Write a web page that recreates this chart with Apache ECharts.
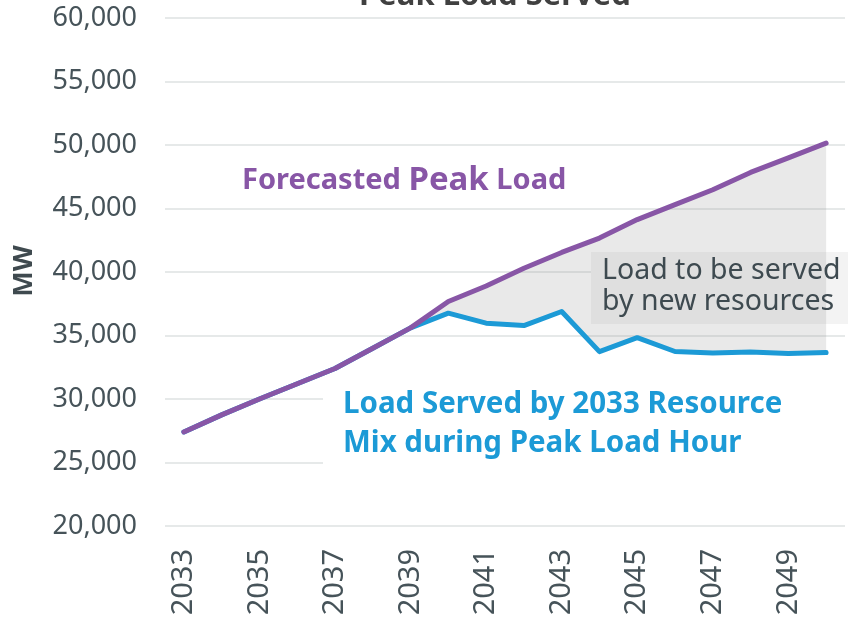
<!DOCTYPE html>
<html>
<head>
<meta charset="utf-8">
<script src="https://cdn.jsdelivr.net/npm/echarts@6/dist/echarts.min.js"></script>
<style>
  html, body { margin: 0; padding: 0; background: #fff; }
  #chart { width: 848px; height: 620px; }
</style>
</head>
<body>
<div id="chart"></div>
<script>
  // years on the x axis
  var years = ['2033', '2034', '2035', '2036', '2037', '2038', '2039', '2040', '2041',
    '2042', '2043', '2044', '2045', '2046', '2047', '2048', '2049', '2050']
  // Forecasted Peak Load (MW)
  var forecastPeak = [27400, 28750, 30000, 31200, 32400, 34000, 35600, 37680, 38900,
    40300, 41540, 42670, 44130, 45300, 46480, 47840, 48980, 50150]
  // Load Served by 2033 Resource Mix during Peak Load Hour (MW)
  var servedByMix = [27400, 28750, 30000, 31200, 32400, 34000, 35600, 36760, 35970,
    35780, 36890, 33730, 34830, 33740, 33620, 33700, 33580, 33660]

  // gap between the two lines, stacked on top of servedByMix for the grey area
  var gap = forecastPeak.map(function (v, i) { return v - servedByMix[i] })

  var font = 'Noto Sans'
  var txtColor = '#465359'

  var myChart = echarts.init(document.getElementById('chart'))
  myChart.setOption({
    animation: false,
    grid: { left: 165, right: 3, top: 18, bottom: 94 },
    xAxis: {
      type: 'category',
      data: years,
      boundaryGap: true,
      axisLine: { show: false },
      axisTick: { show: false },
      axisLabel: {
        interval: 1,
        rotate: 90,
        margin: 23,
        fontSize: 29,
        fontFamily: font,
        color: txtColor
      }
    },
    yAxis: {
      type: 'value',
      min: 20000,
      max: 60000,
      interval: 5000,
      axisLine: { show: false },
      axisTick: { show: false },
      axisLabel: {
        margin: 28,
        fontSize: 27,
        fontFamily: font,
        color: txtColor,
        formatter: function (v) { return v.toLocaleString('en-US') }
      },
      splitLine: { lineStyle: { color: '#e6e9e9', width: 2 } }
    },
    series: [
      {
        name: 'base',
        type: 'line',
        data: servedByMix,
        stack: 'gap',
        symbol: 'none',
        silent: true,
        lineStyle: { width: 0, opacity: 0 }
      },
      {
        name: 'gap',
        type: 'line',
        data: gap,
        stack: 'gap',
        symbol: 'none',
        silent: true,
        lineStyle: { width: 0, opacity: 0 },
        areaStyle: { color: 'rgba(150,150,150,0.3)' }
      },
      {
        name: 'Load Served by 2033 Resource Mix during Peak Load Hour',
        type: 'line',
        data: servedByMix,
        symbol: 'none',
        z: 5,
        lineStyle: { color: '#1c9ad6', width: 5, cap: 'round', join: 'round' }
      },
      {
        name: 'Forecasted Peak Load',
        type: 'line',
        data: forecastPeak,
        symbol: 'none',
        z: 6,
        lineStyle: { color: '#8856a6', width: 5, cap: 'round', join: 'round' }
      }
    ],
    graphic: [
      {
        type: 'text',
        z: 10,
        style: {
          text: 'Peak Load Served',
          x: 495, y: 12,
          align: 'center', verticalAlign: 'bottom',
          font: 'bold 31px "Noto Sans"',
          fill: '#404040'
        }
      },
      {
        type: 'text',
        z: 10,
        rotation: Math.PI / 2,
        x: 24, y: 271,
        style: {
          text: 'MW',
          align: 'center', verticalAlign: 'middle',
          font: 'bold 27px "Noto Sans"',
          fill: '#3f4a4f'
        }
      },
      // white box behind the blue label
      {
        type: 'rect',
        z: 1,
        shape: { x: 323, y: 374, width: 530, height: 94 },
        style: { fill: '#ffffff' }
      },
      {
        type: 'text',
        z: 10,
        style: {
          text: 'Load Served by 2033 Resource\nMix during Peak Load Hour',
          x: 343, y: 385,
          align: 'left', verticalAlign: 'top',
          font: 'bold 29.5px "Noto Sans"',
          lineHeight: 39,
          fill: '#1c9ad6'
        }
      },
      // light box behind the grey label
      {
        type: 'rect',
        z: 3,
        shape: { x: 591, y: 252, width: 260, height: 72 },
        style: { fill: '#f3f3f3' }
      },
      {
        type: 'text',
        z: 10,
        style: {
          text: 'Load to be served\nby new resources',
          x: 602, y: 255,
          align: 'left', verticalAlign: 'top',
          font: '28.5px "Noto Sans"',
          lineHeight: 31,
          fill: '#3e4a50'
        }
      },
      {
        type: 'text',
        z: 10,
        style: {
          text: '{a|Forecasted }{b|Peak}{a| Load}',
          x: 242, y: 181,
          align: 'left', verticalAlign: 'middle',
          fill: '#8856a6',
          rich: {
            a: { fontFamily: font, fontWeight: 'bold', fontSize: 29, fill: '#8856a6', color: '#8856a6' },
            b: { fontFamily: font, fontWeight: 'bold', fontSize: 33, fill: '#8856a6', color: '#8856a6' }
          }
        }
      }
    ]
  })
</script>
</body>
</html>
